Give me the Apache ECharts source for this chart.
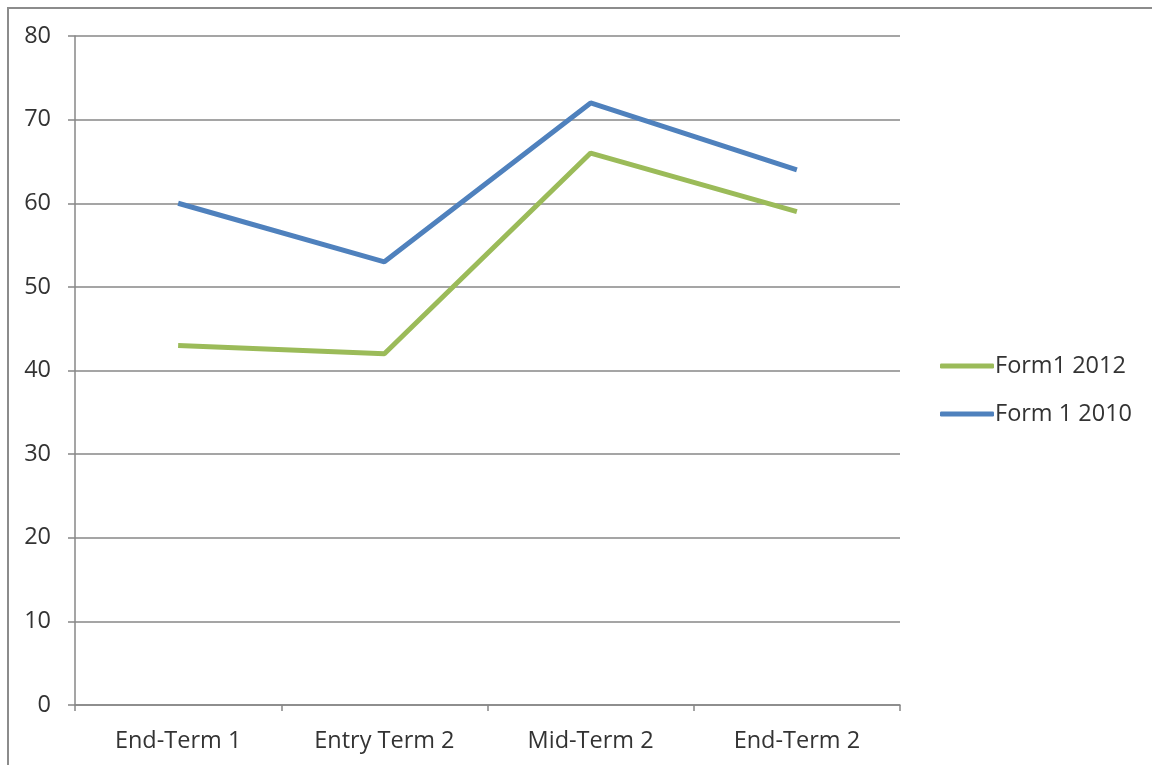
<!DOCTYPE html>
<html>
<head>
<meta charset="utf-8">
<script src="https://cdn.jsdelivr.net/npm/echarts@6/dist/echarts.min.js"></script>
<style>
  html, body { margin: 0; padding: 0; background: #fff; }
  #main { width: 1152px; height: 765px; }
</style>
</head>
<body>
<div id="main"></div>
<script>
// data
const categories = ['End-Term 1', 'Entry Term 2', 'Mid-Term 2', 'End-Term 2']
const form1_2012 = [43, 42, 66, 59]
const form1_2010 = [60, 53, 72, 64]

const font = "'Open Sans', 'Noto Sans', sans-serif"
const gridColor = '#878787'

const myChart = echarts.init(document.getElementById('main'))
const option = {
  backgroundColor: '#fff',
  animation: false,
  textStyle: { fontFamily: font },
  graphic: [
    {
      // chart frame (only top and left edges visible in the crop)
      type: 'polyline',
      shape: { points: [[8, 765], [8, 8], [1152, 8]] },
      style: { stroke: '#8c8c8c', lineWidth: 2, fill: null }
    }
  ],
  grid: {
    left: 75,
    top: 36,
    width: 825,
    height: 669
  },
  legend: {
    orient: 'vertical',
    left: 935,
    top: 349,
    itemWidth: 54,
    itemHeight: 5,
    itemGap: 24,
    icon: 'roundRect',
    textStyle: { fontSize: 23.5, color: '#333', fontFamily: font, padding: [0, 0, 0, -4] },
    data: ['Form1 2012', 'Form 1 2010']
  },
  xAxis: {
    type: 'category',
    data: categories,
    boundaryGap: true,
    axisLine: { lineStyle: { color: gridColor, width: 1.5 } },
    axisTick: { show: true, length: 6, lineStyle: { color: gridColor, width: 1.5 } },
    axisLabel: { fontSize: 23.5, color: '#333', margin: 24, fontFamily: font }
  },
  yAxis: {
    type: 'value',
    min: 0,
    max: 80,
    interval: 10,
    axisLine: { show: true, lineStyle: { color: gridColor, width: 1.5 } },
    axisTick: { show: true, length: 7, lineStyle: { color: gridColor, width: 1.5 } },
    axisLabel: { fontSize: 23.5, color: '#333', margin: 24, fontFamily: font },
    splitLine: { show: true, lineStyle: { color: gridColor, width: 1.5 } }
  },
  series: [
    {
      name: 'Form1 2012',
      type: 'line',
      data: form1_2012,
      symbol: 'none',
      lineStyle: { color: '#9bbb59', width: 5 },
      itemStyle: { color: '#9bbb59' }
    },
    {
      name: 'Form 1 2010',
      type: 'line',
      data: form1_2010,
      symbol: 'none',
      lineStyle: { color: '#4f81bd', width: 5 },
      itemStyle: { color: '#4f81bd' }
    }
  ]
}
myChart.setOption(option)
</script>
</body>
</html>
